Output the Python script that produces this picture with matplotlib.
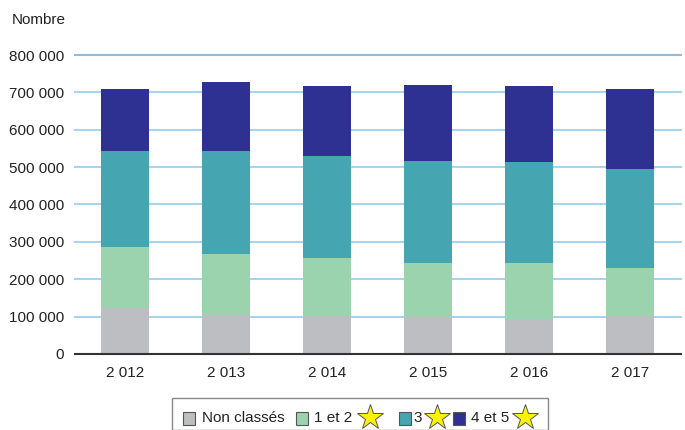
import matplotlib.pyplot as plt
from matplotlib.patches import Rectangle
from matplotlib.lines import Line2D

plt.rcParams['font.family'] = ['Liberation Sans', 'DejaVu Sans']

years = ['2 012', '2 013', '2 014', '2 015', '2 016', '2 017']
non_classes = [124000, 104000, 102000, 98000, 93000, 102000]
un_deux = [163000, 164000, 155000, 146000, 151000, 129000]
trois = [257000, 276000, 274000, 273000, 271000, 265000]
quatre_cinq = [166000, 185000, 185000, 204000, 203000, 212000]

series = [non_classes, un_deux, trois, quatre_cinq]
colors = ['#bdbec2', '#9bd3ae', '#45a5b0', '#2e3192']
labels = ['Non classés', '1 et 2', '3', '4 et 5']
stars = [False, True, True, True]

fig = plt.figure(figsize=(6.85, 4.3), dpi=100)
ax = fig.add_axes([0.1095, 0.177, 0.884, 0.695])

x = range(len(years))
bottom = [0] * len(years)
for vals, c in zip(series, colors):
    ax.bar(x, vals, width=0.476, bottom=bottom, color=c, zorder=3)
    bottom = [b + v for b, v in zip(bottom, vals)]

ax.set_xlim(-0.5, 5.5)
ax.set_ylim(0, 800000)
yt = range(0, 800001, 100000)
ax.set_yticks(list(yt))
ax.set_yticklabels([f'{v:,}'.replace(',', ' ') for v in yt], fontsize=11, color='#222222')
ax.set_xticks(list(x))
ax.set_xticklabels(years, fontsize=11, color='#222222')
ax.tick_params(length=0, pad=8)
ax.tick_params(axis='x', pad=9)
ax.grid(axis='y', color='#a6d5ee', linewidth=1.5, zorder=0)
for gl in ax.get_ygridlines():
    gl.set_clip_on(False)
ax.get_ygridlines()[-1].set_color('#8fbcd6')
for s in ['top', 'right', 'left']:
    ax.spines[s].set_visible(False)
ax.spines['bottom'].set_color('#333333')
ax.spines['bottom'].set_linewidth(1.5)
ax.spines['bottom'].set_zorder(4)

fig.text(12 / 685, 1 - 20 / 430, 'Nombre', fontsize=11, color='#222222', va='center')

# légende dessinée à la main (étoiles jaunes)
fig.patches.append(Rectangle((172 / 685, 0), 376 / 685, 32 / 430, transform=fig.transFigure,
                             facecolor='white', edgecolor='#888888', linewidth=1))
ly = 1 - 418 / 430
sq_x = [183, 296, 399, 453]
txt_x = [202, 314, 413, 471]
star_x = [None, 370, 437, 525]
for lab, c, st, sx, tx, stx in zip(labels, colors, stars, sq_x, txt_x, star_x):
    fig.patches.append(Rectangle((sx / 685, ly - 6.5 / 430), 12 / 685, 13 / 430,
                                 transform=fig.transFigure, facecolor=c,
                                 edgecolor='#555555', linewidth=0.8))
    fig.text(tx / 685, ly, lab, fontsize=11, color='#222222', va='center')
    if st:
        fig.add_artist(Line2D([stx / 685], [ly + 1 / 430], transform=fig.transFigure, marker='*',
                              markersize=19, markerfacecolor='#fff200',
                              markeredgecolor='#555555', markeredgewidth=0.7))

fig.savefig('out.png', dpi=100)
